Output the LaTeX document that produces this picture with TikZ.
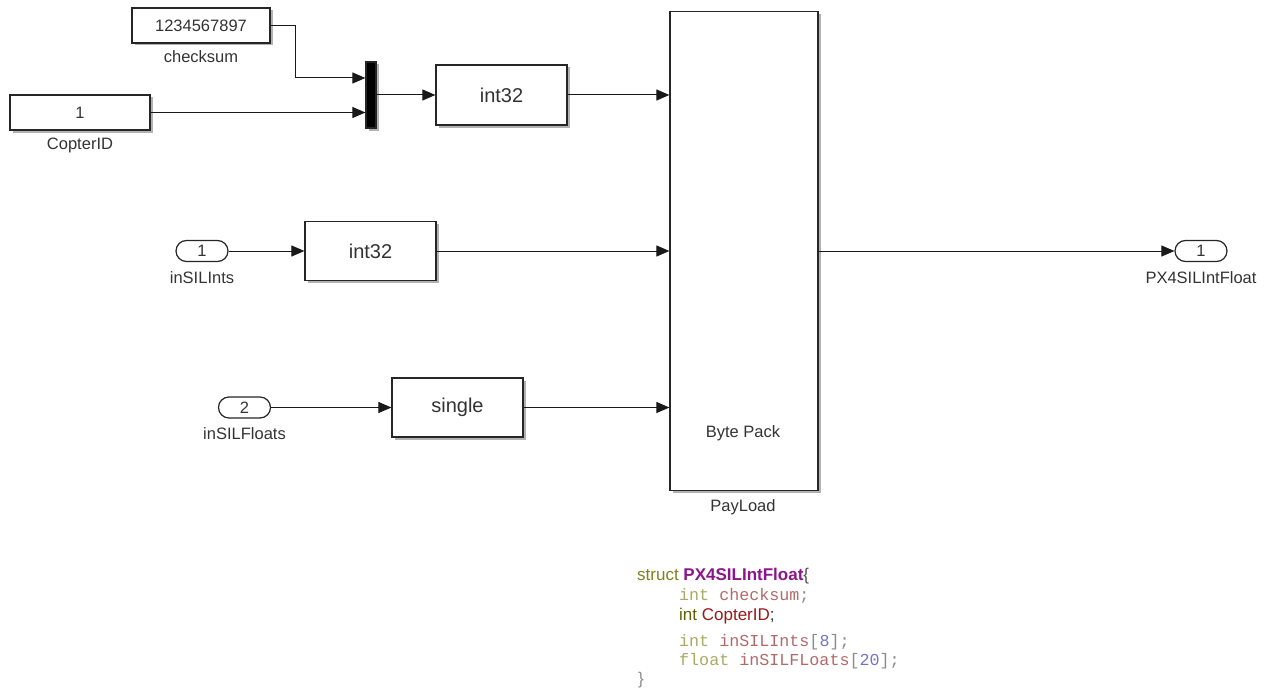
\documentclass[tikz,border=0pt]{standalone}
\usepackage{fontspec}
\setmainfont{Liberation Sans}
\setmonofont{Liberation Mono}
\usetikzlibrary{arrows.meta,shadows,calc}
\definecolor{olv}{RGB}{128,128,32}
\definecolor{purp}{RGB}{140,20,140}
\definecolor{lolv}{RGB}{170,170,100}
\definecolor{lred}{RGB}{180,105,105}
\definecolor{lblue}{RGB}{115,115,200}
\definecolor{lgray}{RGB}{140,140,140}
\definecolor{dolv}{RGB}{95,95,0}
\definecolor{dred}{RGB}{150,25,25}
\tikzset{
  blk/.style={draw=black!85, line width=1.2pt, fill=white, inner sep=0pt, text=black!80,
    drop shadow={shadow xshift=2.5pt, shadow yshift=-2.5pt, fill=black, opacity=0.3}},
  bigtxt/.style={font=\fontsize{20}{22}\selectfont},
  smtxt/.style={font=\fontsize{16.5}{18}\selectfont},
  portblk/.style={draw=black!85, line width=1.2pt, fill=white, rounded corners=10.5pt, text=black!80,
    minimum width=52pt, minimum height=21pt, inner sep=0pt, font=\fontsize{16.5}{18}\selectfont},
  lbl/.style={inner sep=0pt, font=\fontsize{16.5}{18}\selectfont, text=black!80},
  wire/.style={line width=1pt, draw=black!90, -{Triangle[length=13pt,width=11pt]}},
  codeln/.style={anchor=base west, inner sep=0pt},
}
\begin{document}
\begin{tikzpicture}[x=1pt,y=-1pt]
\useasboundingbox (0,0) rectangle (1270,693);
% constant blocks
\node[blk, smtxt, minimum width=138pt, minimum height=35pt] (check) at (201,25.5) {1234567897};
\node[lbl] (checkl) at (201,57) {checksum};
\node[blk, smtxt, minimum width=140pt, minimum height=35pt] (copter) at (80,112.5) {1};
\node[lbl] (copterl) at (80,145) {CopterID};
% mux
\node[blk, fill=black, minimum width=10pt, minimum height=66pt] (mux) at (371,95) {};
% conversions
\node[blk, bigtxt, minimum width=131pt, minimum height=60pt] (int32a) at (501.5,95) {int32};
\node[blk, bigtxt, minimum width=131pt, minimum height=59pt] (int32b) at (370.5,251) {int32};
\node[blk, bigtxt, minimum width=131pt, minimum height=59pt] (single) at (457.5,407.5) {single};
% payload
\node[blk, minimum width=148pt, minimum height=479pt] (payload) at (744,251) {};
\node[lbl] (bytepack) at (743,433) {Byte Pack};
\node[lbl] (payloadl) at (743,507) {PayLoad};
% ports
\node[portblk] (in1) at (202,251) {1};
\node[lbl] (in1l) at (202,278) {inSILInts};
\node[portblk] (in2) at (244.5,407.5) {2};
\node[lbl] (in2l) at (244.5,434) {inSILFloats};
\node[portblk] (out1) at (1201,251) {1};
\node[lbl] (out1l) at (1201,278) {PX4SILIntFloat};
% wires
\draw[wire] (check.east) -- ++(25,0) |- ([yshift=17pt]mux.west);
\draw[wire] (copter.east) -- (copter.east -| mux.west);
\draw[wire] (mux.east) -- (int32a.west);
\draw[wire] (int32a.east) -- (int32a.east -| payload.west);
\draw[wire] (in1.east) -- (int32b.west);
\draw[wire] (int32b.east) -- (int32b.east -| payload.west);
\draw[wire] (in2.east) -- (single.west);
\draw[wire] (single.east) -- (single.east -| payload.west);
\draw[wire] (payload.east) -- (out1.west);
% struct text
\node[codeln, font=\fontsize{17}{19}\selectfont] (c1) at (637,580)
  {\textcolor{olv}{struct }\textcolor{purp}{\textbf{PX4SILIntFloat}}\textcolor{black!70}{\{}};
\node[codeln, font=\ttfamily\fontsize{16.7}{19}\selectfont] (c2) at (679,600)
  {\textcolor{lolv}{int} \textcolor{lred}{checksum}\textcolor{lgray}{;}};
\node[codeln, font=\fontsize{17}{19}\selectfont] (c3) at (679,620)
  {\textcolor{dolv}{int }\textcolor{dred}{CopterID}\textcolor{black!80}{;}};
\node[codeln, font=\ttfamily\fontsize{16.7}{19}\selectfont] (c4) at (679,646)
  {\textcolor{lolv}{int} \textcolor{lred}{inSILInts}\textcolor{lgray}{[}\textcolor{lblue}{8}\textcolor{lgray}{];}};
\node[codeln, font=\ttfamily\fontsize{16.7}{19}\selectfont] (c5) at (679,665)
  {\textcolor{lolv}{float} \textcolor{lred}{inSILFLoats}\textcolor{lgray}{[}\textcolor{lblue}{20}\textcolor{lgray}{];}};
\node[codeln, font=\fontsize{17}{19}\selectfont] (c6) at (638,684)
  {\textcolor{lgray}{\}}};
\end{tikzpicture}
\end{document}
